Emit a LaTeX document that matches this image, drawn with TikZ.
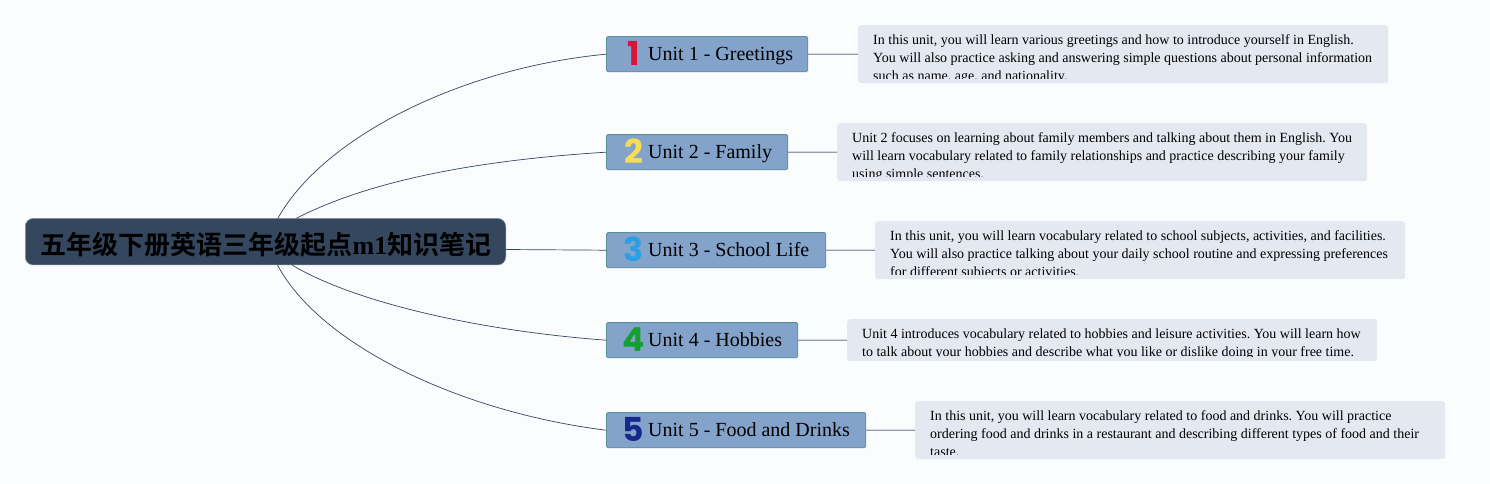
\documentclass[tikz,border=0pt]{standalone}
\usepackage{fontspec}
\setmainfont{Liberation Serif}
\newfontfamily\cjkbold{Noto Sans CJK SC Bold}
\newfontfamily\digitfont{Poppins}[BoldFont=* Bold]
\definecolor{bgc}{HTML}{FBFCFD}
\definecolor{rootc}{HTML}{34475F}
\definecolor{rootb}{HTML}{8694A8}
\definecolor{unitc}{HTML}{84A3CB}
\definecolor{unitb}{HTML}{5B8F99}
\definecolor{notec}{HTML}{E3E8F1}
\definecolor{linkc}{HTML}{9A9AAA}
\definecolor{curvec}{HTML}{36455F}
\tikzset{
  x=1pt,y=-1pt,
  rootbox/.style={draw=rootb,line width=.5pt,fill=rootc,rounded corners=8pt,minimum width=480.5pt,minimum height=46.5pt,inner sep=0pt,anchor=north west},
  unitbox/.style={draw=unitb,line width=.8pt,fill=unitc,rounded corners=1.5pt,minimum height=35.2pt,inner sep=0pt,anchor=north west},
  notebox/.style={fill=notec,rounded corners=3pt,minimum width=530pt,inner sep=0pt,anchor=north west},
  notetext/.style={inner sep=0pt,anchor=north west,align=left,text=black,font=\fontsize{14}{18}\selectfont\frenchspacing},
  unittext/.style={inner sep=0pt,anchor=base west,text=black,font=\fontsize{20}{24}\selectfont},
  digit/.style={inner sep=0pt,anchor=base,font=\digitfont\bfseries\fontsize{33}{33}\selectfont},
  curve/.style={draw=curvec,line width=.7pt},
  link/.style={draw=linkc,line width=1.2pt},
}
\newcommand{\noteclip}[6]{%
  \node[notebox,minimum height=#4pt] (#1) at (#2,#3) {};
  \begin{scope}
    \clip (#2,#3) rectangle ++(530,#5);
    \node[notetext] (#1t) at (#2+15,#3+9.3) {#6};
  \end{scope}}
\begin{document}
\begin{tikzpicture}
\useasboundingbox (0,0) rectangle (1490,484);
\fill[bgc] (0,0) rectangle (1490,484);
% anchors
\coordinate (r1) at (277.5,219);
\coordinate (r2) at (295,219);
\coordinate (r3) at (506,249.5);
\coordinate (r4) at (292,265);
\coordinate (r5) at (277.5,265);
% unit boxes
\node[unitbox,minimum width=201.4pt] (u1) at (606,36.2) {};
\node[unitbox,minimum width=181.4pt] (u2) at (606,134.2) {};
\node[unitbox,minimum width=219.4pt] (u3) at (606,232.2) {};
\node[unitbox,minimum width=191.4pt] (u4) at (606,322.2) {};
\node[unitbox,minimum width=259.4pt] (u5) at (606,412.2) {};
% curves
\draw[curve] (r1) .. controls (322,138) and (460,68) .. (u1.west);
\draw[curve] (r2) .. controls (370,180) and (480,160) .. (u2.west);
\draw[curve] (r3) -- (u3.west);
\draw[curve] (r4) .. controls (350,300) and (470,330) .. (u4.west);
\draw[curve] (r5) .. controls (320,345) and (460,412) .. (u5.west);
% root
\node[rootbox] (root) at (25,218.2) {};
\node[inner sep=0pt,anchor=base,text=black] (title) at (266,254)
  {\fontsize{26}{30}\selectfont{\cjkbold 五年级下册英语三年级起点}\textbf{m1}{\cjkbold 知识笔记}};
% notes
\noteclip{n1}{858}{25}{58}{53.5}{In this unit, you will learn various greetings and how to introduce yourself in English.\\You will also practice asking and answering simple questions about personal information\\such as name, age, and nationality.}
\noteclip{n2}{837}{123}{58}{53.5}{Unit 2 focuses on learning about family members and talking about them in English. You\\will learn vocabulary related to family relationships and practice describing your family\\using simple sentences.}
\noteclip{n3}{875}{221}{58}{53.5}{In this unit, you will learn vocabulary related to school subjects, activities, and facilities.\\You will also practice talking about your daily school routine and expressing preferences\\for different subjects or activities.}
\noteclip{n4}{847}{319}{42}{37.5}{Unit 4 introduces vocabulary related to hobbies and leisure activities. You will learn how\\to talk about your hobbies and describe what you like or dislike doing in your free time.}
\noteclip{n5}{915}{401}{58}{53.5}{In this unit, you will learn vocabulary related to food and drinks. You will practice\\ordering food and drinks in a restaurant and describing different types of food and their\\taste.}
% links
\draw[link] (u1.east) -- (n1.west);
\draw[link] (u2.east) -- (n2.west);
\draw[link] (u3.east) -- (n3.west);
\draw[link] (u4.east) -- (n4.west);
\draw[link] (u5.east) -- (n5.west);
% digits
\node[digit,text={rgb,255:red,217;green,20;blue,58}] (d1) at (633.5,65.5) {1};
\node[digit,text={rgb,255:red,245;green,221;blue,88}] (d2) at (633.5,163.5) {2};
\node[digit,text={rgb,255:red,42;green,159;blue,227}] (d3) at (633.5,261.5) {3};
\node[digit,text={rgb,255:red,18;green,160;blue,46}] (d4) at (633.5,351.5) {4};
\node[digit,text={rgb,255:red,22;green,41;blue,138}] (d5) at (633.5,441.5) {5};
% unit labels
\node[unittext] (l1) at (648,60.3) {Unit 1 - Greetings};
\node[unittext] (l2) at (648,158.3) {Unit 2 - Family};
\node[unittext] (l3) at (648,256.3) {Unit 3 - School Life};
\node[unittext] (l4) at (648,346.3) {Unit 4 - Hobbies};
\node[unittext] (l5) at (648,436.3) {Unit 5 - Food and Drinks};
\end{tikzpicture}
\end{document}
